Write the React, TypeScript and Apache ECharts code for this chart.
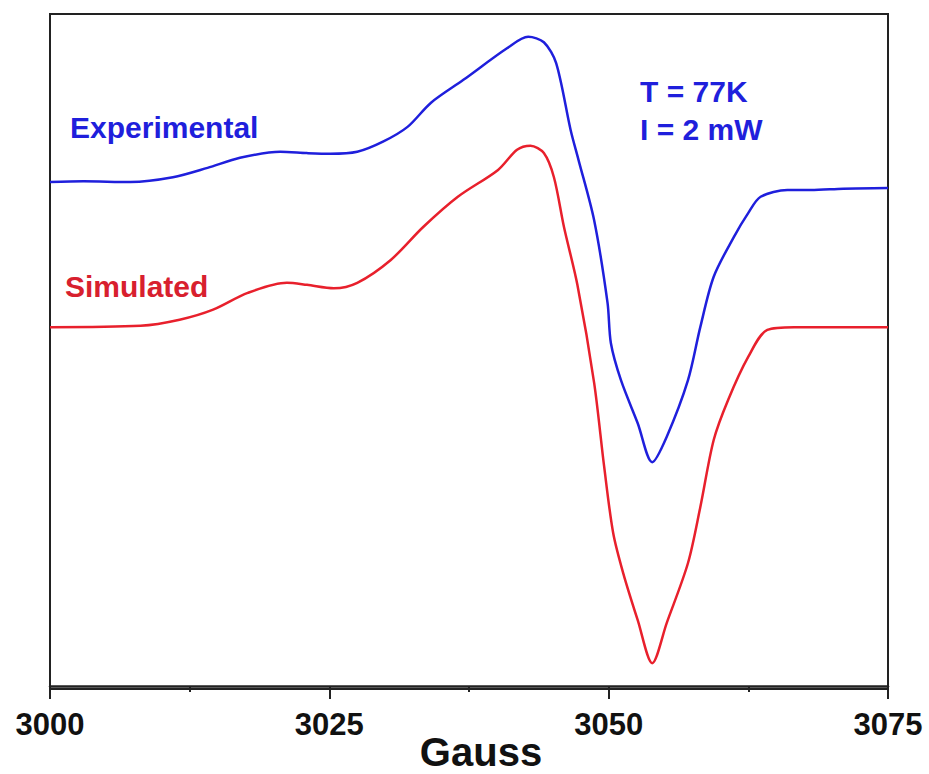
import React, { useEffect, useRef } from "react";
import * as echarts from "echarts";

// Magnetic field (Gauss) and EPR derivative signal (a.u., offset traces)
const expField = [
  3000, 3003, 3007.2, 3011.0, 3014.1, 3017.0, 3020.6, 3023.0, 3025.1, 3027.5,
  3029.8, 3032.0, 3034.1, 3037.0, 3040.9, 3042.8, 3044.2, 3045.3, 3046.6, 3047.3,
  3048.7, 3049.9, 3050.2, 3051.1, 3052.6, 3053.9, 3055.2, 3057.1, 3058.2, 3059.4,
  3061.2, 3062.5, 3063.6, 3066.0, 3068.1, 3071.0, 3075,
];
const expSignal = [
  75.0, 75.1, 75.0, 75.7, 77.1, 78.6, 79.5, 79.3, 79.2, 79.5,
  81.0, 83.2, 86.8, 90.2, 94.9, 96.6, 95.8, 92.7, 82.7, 78.3,
  69.3, 57.0, 51.0, 45.5, 39.1, 33.3, 37.1, 45.5, 53.4, 60.9,
  66.8, 70.4, 72.8, 73.8, 73.8, 74.0, 74.1,
];

const simField = [
  3000, 3008.1, 3011.6, 3014.6, 3017.7, 3021.2, 3023.0, 3025.4, 3027.5, 3030.5,
  3033.4, 3036.5, 3040.1, 3041.8, 3043.0, 3044.2, 3045.1, 3046.0, 3047.2, 3048.7,
  3049.6, 3050.4, 3051.3, 3052.6, 3053.9, 3055.2, 3057.1, 3058.2, 3059.4, 3060.7,
  3062.5, 3064.2, 3066.6, 3075,
];
const simSignal = [
  53.4, 53.6, 54.5, 56.0, 58.5, 60.0, 59.7, 59.2, 60.0, 63.4,
  68.3, 72.8, 76.8, 79.8, 80.4, 79.3, 75.7, 68.3, 59.7, 45.1,
  32.6, 22.8, 16.8, 9.8, 3.4, 9.4, 18.3, 26.6, 36.6, 42.6,
  49.0, 53.0, 53.4, 53.4,
];

const BLUE = "#1f1fdc";
const RED = "#e8202c";
const FONT = "Liberation Sans, Arial, sans-serif";
const W = 929;
const H = 774;

export default function App() {
  const ref = useRef<HTMLDivElement>(null);

  useEffect(() => {
    if (!ref.current) return;
    const chart = echarts.init(ref.current, undefined, { renderer: "svg", width: W, height: H });
    chart.setOption({
      animation: false,
      backgroundColor: "#ffffff",
      grid: {
        left: 50,
        right: 41,
        top: 14,
        bottom: 85,
        outerBoundsMode: "none",
        show: true,
        borderColor: "#222",
        borderWidth: 2,
      },
      xAxis: {
        type: "value",
        min: 3000,
        max: 3075,
        interval: 25,
        axisLine: { show: true, lineStyle: { color: "#222", width: 2.5 } },
        axisTick: { show: true, length: 13, lineStyle: { color: "#222", width: 2 } },
        minorTick: { show: true, splitNumber: 2, length: 6, lineStyle: { color: "#222", width: 2 } },
        splitLine: { show: false },
        axisLabel: {
          fontFamily: FONT,
          fontSize: 31,
          fontWeight: "bold",
          color: "#111",
          margin: 20,
          showMinLabel: true,
          showMaxLabel: true,
          formatter: (v: number) => String(v),
        },
      },
      yAxis: {
        type: "value",
        min: -0.45,
        max: 100,
        axisLine: { show: true, lineStyle: { color: "#222", width: 2 } },
        axisTick: { show: false },
        axisLabel: { show: false },
        splitLine: { show: false },
      },
      series: [
        {
          name: "Experimental",
          type: "line",
          data: expField.map((x, i) => [x, expSignal[i]]),
          showSymbol: false,
          smooth: 0.3,
          lineStyle: { color: BLUE, width: 2.5 },
        },
        {
          name: "Simulated",
          type: "line",
          data: simField.map((x, i) => [x, simSignal[i]]),
          showSymbol: false,
          smooth: 0.3,
          lineStyle: { color: RED, width: 2.5 },
        },
      ],
      graphic: [
        {
          type: "text",
          x: 481,
          y: 752,
          style: {
            text: "Gauss",
            fill: "#111",
            font: `bold 40px ${FONT}`,
            textAlign: "center",
            textVerticalAlign: "middle",
          },
        },
        {
          type: "text",
          left: 70,
          top: 112,
          style: { text: "Experimental", fill: BLUE, font: `bold 30px ${FONT}` },
        },
        {
          type: "text",
          left: 65,
          top: 271,
          style: { text: "Simulated", fill: "#d8202e", font: `bold 30px ${FONT}` },
        },
        {
          type: "text",
          left: 640,
          top: 76,
          style: { text: "T = 77K", fill: BLUE, font: `bold 30px ${FONT}` },
        },
        {
          type: "text",
          left: 640,
          top: 114,
          style: { text: "I = 2 mW", fill: BLUE, font: `bold 30px ${FONT}` },
        },
      ],
    });
    return () => chart.dispose();
  }, []);

  return <div ref={ref} style={{ width: W, height: H, position: "absolute", left: 0, top: 0 }} />;
}
